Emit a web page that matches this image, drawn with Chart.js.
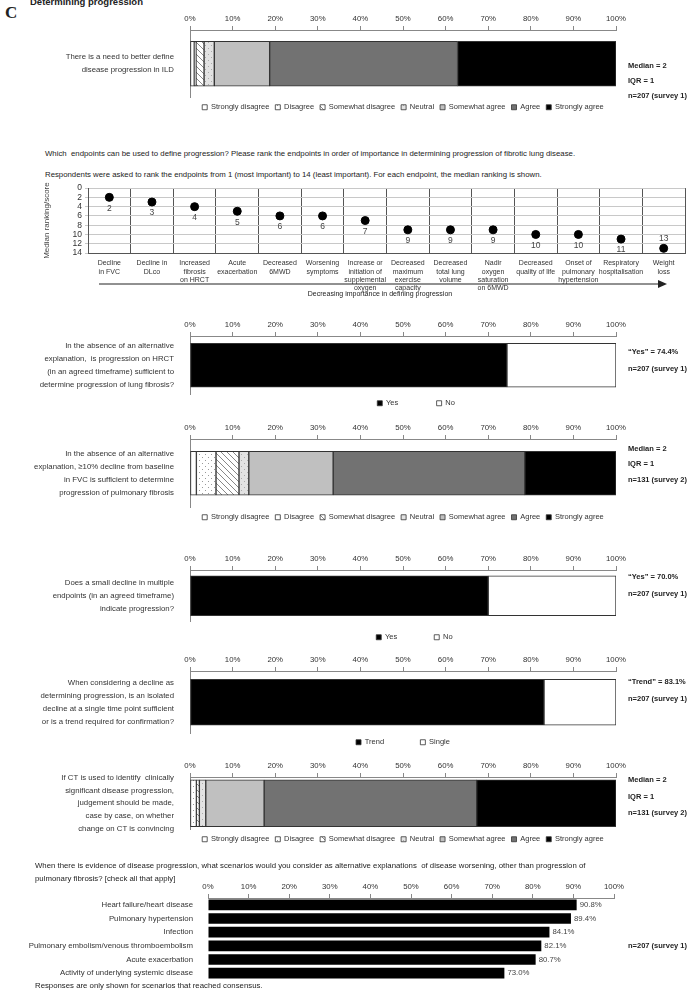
<!DOCTYPE html>
<html>
<head>
<meta charset="utf-8">
<script src="https://cdn.jsdelivr.net/npm/chart.js@4.4.0/dist/chart.umd.min.js"></script>
<style>
  body { margin: 0; background: #fff; width: 690px; height: 991px; position: relative; overflow: hidden;
         font-family: 'Liberation Sans', Arial, sans-serif; color: #222; }
  .box { position: absolute; left: 0; width: 690px; }
  .txt { position: absolute; font-size: 7.8px; white-space: nowrap; line-height: 10px; }
  .note { position: absolute; left: 628px; font-size: 7.5px; font-weight: bold; white-space: nowrap; line-height: 10px; }
</style>
</head>
<body>
<div class="txt" style="left:5px;top:4px;font:bold 17px 'Liberation Serif',serif;line-height:18px">C</div>
<div class="txt" style="left:30px;top:-3px;font-weight:bold;font-size:9.5px">Determining progression</div>

<div class="box" style="top:8px;height:113px"><canvas id="c1"></canvas></div>
<div class="note" style="top:61px">Median = 2</div>
<div class="note" style="top:76px">IQR = 1</div>
<div class="note" style="top:91px">n=207 (survey 1)</div>

<div class="txt" style="left:45px;top:149px">Which&nbsp; endpoints can be used to define progression? Please rank the endpoints in order of importance in determining progression of fibrotic lung disease.</div>
<div class="txt" style="left:45px;top:170px">Respondents were asked to rank the endpoints from 1 (most important) to 14 (least important). For each endpoint, the median ranking is shown.</div>
<div class="box" style="top:180px;height:121px"><canvas id="c2"></canvas></div>
<svg style="position:absolute;left:0;top:278px" width="690" height="12">
  <line x1="99" y1="6" x2="660" y2="6" stroke="#222" stroke-width="1"/>
  <polygon points="658,2 667,6 658,10" fill="#222"/>
</svg>
<div class="txt" style="left:0;width:760px;text-align:center;top:289px;font-size:7px">Decreasing importance in defining progression</div>

<div class="box" style="top:314px;height:103px"><canvas id="c3"></canvas></div>
<div class="note" style="top:347px">“Yes” = 74.4%</div>
<div class="note" style="top:364px">n=207 (survey 1)</div>

<div class="box" style="top:417px;height:114px"><canvas id="c4"></canvas></div>
<div class="note" style="top:444px">Median = 2</div>
<div class="note" style="top:459px">IQR = 1</div>
<div class="note" style="top:475px">n=131 (survey 2)</div>

<div class="box" style="top:548px;height:103px"><canvas id="c5"></canvas></div>
<div class="note" style="top:572px">“Yes” = 70.0%</div>
<div class="note" style="top:589px">n=207 (survey 1)</div>

<div class="box" style="top:649px;height:107px"><canvas id="c6"></canvas></div>
<div class="note" style="top:677px">“Trend” = 83.1%</div>
<div class="note" style="top:694px">n=207 (survey 1)</div>

<div class="box" style="top:755px;height:98px"><canvas id="c7"></canvas></div>
<div class="note" style="top:775px">Median = 2</div>
<div class="note" style="top:792px">IQR = 1</div>
<div class="note" style="top:808px">n=131 (survey 2)</div>

<div class="txt" style="left:35px;top:861px">When there is evidence of disease progression, what scenarios would you consider as alternative explanations&nbsp; of disease worsening, other than progression of</div>
<div class="txt" style="left:35px;top:874px">pulmonary fibrosis? [check all that apply]</div>
<div class="box" style="top:884px;height:96px"><canvas id="c8"></canvas></div>
<div class="note" style="top:941px">n=207 (survey 1)</div>
<div class="txt" style="left:35px;top:981px">Responses are only shown for scenarios that reached consensus.</div>

<script>
// ---- data ----
const likertLabels = ["Strongly disagree", "Disagree", "Somewhat disagree", "Neutral", "Somewhat agree", "Agree", "Strongly agree"];
const needDefineILD = [1.0, 0.4, 1.9, 2.4, 13.0, 44.1, 37.2];
const fvcDecline = [1.5, 4.6, 5.4, 2.3, 19.8, 45.0, 21.4];
const ctJudgement = [0.0, 1.5, 0.7, 1.5, 13.7, 49.9, 32.7];

const yesNoLabels = ["Yes", "No"];
const hrctYesNo = [74.4, 25.6];
const smallDeclineYesNo = [70.0, 30.0];
const trendLabels = ["Trend", "Single"];
const trendSingle = [83.1, 16.9];

const endpointLabels = [
  ["Decline", "in FVC"], ["Decline in", "DLco"], ["Increased", "fibrosis", "on HRCT"], ["Acute", "exacerbation"],
  ["Decreased", "6MWD"], ["Worsening", "symptoms"], ["Increase or", "initiation of", "supplemental", "oxygen"],
  ["Decreased", "maximum", "exercise", "capacity"], ["Decreased", "total lung", "volume"],
  ["Nadir", "oxygen", "saturation", "on 6MWD"], ["Decreased", "quality of life"],
  ["Onset of", "pulmonary", "hypertension"], ["Respiratory", "hospitalisation"], ["Weight", "loss"]
];
const endpointMedian = [2, 3, 4, 5, 6, 6, 7, 9, 9, 9, 10, 10, 11, 13];

const scenarioLabels = ["Heart failure/heart disease", "Pulmonary hypertension", "Infection",
  "Pulmonary embolism/venous thromboembolism", "Acute exacerbation", "Activity of underlying systemic disease"];
const scenarioPct = [90.8, 89.4, 84.1, 82.1, 80.7, 73.0];

// ---- styling helpers ----
const FONT = "'Liberation Sans', Arial, sans-serif";
Chart.defaults.font.family = FONT;
Chart.defaults.color = "#333";

function pattern(bg, draw) {
  const c = document.createElement("canvas");
  c.width = 6; c.height = 6;
  const g = c.getContext("2d");
  g.fillStyle = bg; g.fillRect(0, 0, 6, 6);
  if (draw) draw(g);
  return g.createPattern(c, "repeat");
}
const dots = pattern("#fff", g => { g.fillStyle = "#999"; g.fillRect(1, 1, 1, 1); g.fillRect(4, 4, 1, 1); });
const hatch = pattern("#fff", g => {
  g.strokeStyle = "#888"; g.lineWidth = 1;
  g.beginPath(); g.moveTo(0, 0); g.lineTo(6, 6); g.moveTo(-3, 3); g.lineTo(3, 9); g.moveTo(3, -3); g.lineTo(9, 3); g.stroke();
});
const neutral = pattern("#e2e2e2", g => { g.fillStyle = "#aaa"; g.fillRect(1, 1, 1, 1); g.fillRect(4, 4, 1, 1); });
const likertColors = ["#fff", dots, hatch, neutral, "#c0c0c0", "#727272", "#000"];

// drop the half-label padding so the plot area keeps the size we give it
const noPad = s => { s.paddingTop = 0; s.paddingBottom = 0; };

function pctAxis(h) {
  return {
    position: "top", stacked: true, min: 0, max: 100,
    ticks: { stepSize: 10, callback: v => v + "%", font: { size: 7.8 }, color: "#333", padding: 2 },
    grid: { drawOnChartArea: false, tickLength: 4, color: "#888" },
    border: { color: "#888" },
    afterFit: s => { s.height = h; }
  };
}

function stackedBar(id, question, labels, values, colors, barPx, legendPad, gap, shift) {
  new Chart(document.getElementById(id), {
    type: "bar",
    data: {
      labels: [question],
      datasets: labels.map((l, i) => ({
        label: l, data: [values[i]], backgroundColor: colors[i],
        borderColor: "#333", borderWidth: 1, borderSkipped: false, barThickness: barPx
      }))
    },
    options: {
      indexAxis: "y", responsive: true, maintainAspectRatio: false, animation: false,
      layout: { padding: { right: 74 } },
      plugins: {
        tooltip: { enabled: false },
        legend: {
          position: "bottom", fullSize: false,
          labels: {
            boxWidth: 5, boxHeight: 5, padding: legendPad, color: "#333", font: { size: 7.5 },
            generateLabels: ch => {
              const items = Chart.defaults.plugins.legend.labels.generateLabels(ch)
                .map((it, i, all) => ({ ...it, lineWidth: 0.8, text: it.text + (i < all.length - 1 && gap ? gap : "") }));
              if (shift) items.unshift({ text: shift, fillStyle: "rgba(0,0,0,0)", strokeStyle: "rgba(0,0,0,0)", lineWidth: 0, hidden: false, datasetIndex: -1 });
              return items;
            }
          }
        }
      },
      scales: {
        x: pctAxis(22),
        y: {
          stacked: true, grid: { display: false }, border: { color: "#888" },
          ticks: { font: { size: 7.8, lineHeight: 1.65 }, color: "#333", padding: 8 },
          afterFit: s => { s.width = 190; noPad(s); }
        }
      }
    }
  });
}

// need to define progression
stackedBar("c1", ["There is a need to better define", "disease progression in ILD"],
  likertLabels, needDefineILD, likertColors, 45, 6);

// endpoints ranking
new Chart(document.getElementById("c2"), {
  type: "line",
  data: {
    labels: endpointLabels,
    datasets: [{ data: endpointMedian, showLine: false, pointRadius: 4, pointBackgroundColor: "#000", pointBorderColor: "#000" }]
  },
  options: {
    responsive: true, maintainAspectRatio: false, animation: false,
    layout: { padding: { left: 40, right: 4, top: 0 } },
    plugins: { legend: { display: false }, tooltip: { enabled: false } },
    scales: {
      x: {
        offset: true,
        grid: { offset: true, color: "#555", drawTicks: false },
        border: { color: "#555" },
        ticks: { font: { size: 7, lineHeight: 1.2 }, color: "#333", maxRotation: 0, autoSkip: false, padding: 6 },
        afterFit: s => { s.height = 48; }
      },
      y: {
        reverse: true, min: 0, max: 14,
        ticks: { stepSize: 2, autoSkip: false, font: { size: 8.5 }, color: "#333", padding: 3 },
        grid: { color: "#c8c8c8", tickLength: 3 },
        border: { color: "#555" },
        title: { display: true, text: "Median ranking/score", font: { size: 8 }, color: "#444", padding: 2 },
        afterFit: s => { s.width = 48; }
      }
    }
  },
  plugins: [{
    id: "medianLabels",
    afterDatasetsDraw(ch) {
      const g = ch.ctx;
      g.save();
      g.font = "8.5px " + FONT; g.fillStyle = "#444"; g.textAlign = "center"; g.textBaseline = "middle";
      ch.getDatasetMeta(0).data.forEach((pt, i) => {
        const v = endpointMedian[i];
        g.fillText(String(v), pt.x, pt.y + (v >= 12 ? -10 : 11));
      });
      g.restore();
    }
  }]
});

// HRCT yes/no
stackedBar("c3", ["In the absence of an alternative", "explanation,  is progression on HRCT", "(in an agreed timeframe) sufficient to", "determine progression of lung fibrosis?"],
  yesNoLabels, hrctYesNo, ["#000", "#fff"], 44, 5, " ".repeat(16), "      ");

// FVC decline
stackedBar("c4", ["In the absence of an alternative", "explanation, ≥10% decline from baseline", "in FVC is sufficient to determine", "progression of pulmonary fibrosis"],
  likertLabels, fvcDecline, likertColors, 44, 6);

// small decline multiple endpoints
stackedBar("c5", ["Does a small decline in multiple", "endpoints (in an agreed timeframe)", "indicate progression?"],
  yesNoLabels, smallDeclineYesNo, ["#000", "#fff"], 40, 12, " ".repeat(12), " ");

// trend vs single
stackedBar("c6", ["When considering a decline as", "determining progression, is an isolated", "decline at a single time point sufficient", "or is a trend required for confirmation?"],
  trendLabels, trendSingle, ["#000", "#fff"], 46, 5, " ".repeat(15));

// CT judgement
stackedBar("c7", ["If CT is used to identify  clinically", "significant disease progression,", "judgement should be made,", "case by case, on whether", "change on CT is convincing"],
  likertLabels, ctJudgement, likertColors, 47, 6);

// alternative explanations
new Chart(document.getElementById("c8"), {
  type: "bar",
  data: {
    labels: scenarioLabels,
    datasets: [{ data: scenarioPct, backgroundColor: "#000", barPercentage: 0.78, categoryPercentage: 1 }]
  },
  options: {
    indexAxis: "y", responsive: true, maintainAspectRatio: false, animation: false,
    layout: { padding: { right: 76 } },
    plugins: { legend: { display: false }, tooltip: { enabled: false } },
    scales: {
      x: { ...pctAxis(14), stacked: false },
      y: {
        grid: { display: false }, border: { display: false },
        ticks: { autoSkip: false, font: { size: 7.8 }, color: "#333", padding: 7 },
        afterFit: s => { s.width = 208; noPad(s); }
      }
    }
  },
  plugins: [{
    id: "pctLabels",
    afterDatasetsDraw(ch) {
      const g = ch.ctx;
      g.save();
      g.font = "7.8px " + FONT; g.fillStyle = "#444"; g.textBaseline = "middle";
      ch.getDatasetMeta(0).data.forEach((bar, i) => {
        g.fillText(scenarioPct[i].toFixed(1) + "%", bar.x + 3, bar.y);
      });
      g.restore();
    }
  }]
});
</script>
</body>
</html>
